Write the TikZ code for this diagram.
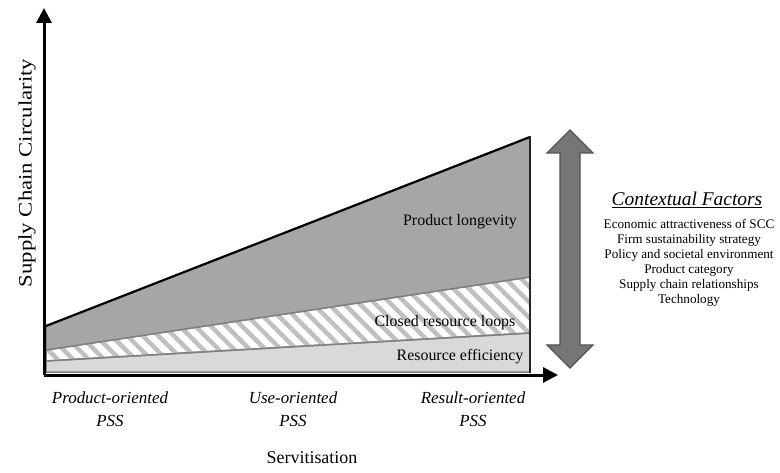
\documentclass[tikz,border=0pt]{standalone}
\usepackage{fontspec}
\setmainfont{Liberation Serif}
\usetikzlibrary{patterns.meta,arrows.meta}

\definecolor{longgray}{RGB}{166,166,166}
\definecolor{effgray}{RGB}{217,217,217}
\definecolor{stripegray}{RGB}{192,192,192}
\definecolor{edgegray}{RGB}{128,128,128}
\definecolor{factgray}{RGB}{118,118,118}

\begin{document}
\begin{tikzpicture}[x=1bp,y=-1bp]
		\tikzstyle{every node}+=[inner sep=0pt]
		\tikzstyle{band}=[draw=edgegray, line width=1.5bp, line join=round]
		\tikzstyle{bandlabel}=[font=\fontsize{16}{19}\selectfont]
		\tikzstyle{axis}=[black, line width=3bp, -{Triangle[length=15bp,width=15bp]}]
		\tikzstyle{pss}=[align=center, font=\fontsize{17}{23}\selectfont\itshape]
		\useasboundingbox (0,0) rectangle (780,473);
		% axes origin and tips
		\coordinate (o) at (44,375);
		\coordinate (ytip) at (44,8);
		\coordinate (xtip) at (558,375);
		% bands
		\draw [band, fill=effgray] (46,361) -- (530,333) -- (530,372) -- (46,372) -- cycle;
		\draw [band, pattern={Lines[angle=-45,distance=11bp,line width=4.5bp]}, pattern color=stripegray] (46,350) -- (530,277) -- (530,333) -- (46,361) -- cycle;
		\draw [band, fill=longgray] (46,326) -- (530,137) -- (530,277) -- (46,350) -- cycle;
		\draw [black, line width=2.2bp] (46,326) -- (530,137);
		\draw [black!85, line width=2bp] (530,136) -- (530,373);
		\draw (460,222) node [bandlabel] (longevity) {Product longevity};
		\draw (445,323) node [bandlabel] (loops) {Closed resource loops};
		\draw (460,357) node [bandlabel] (efficiency) {Resource efficiency};
		% axes
		\draw [axis] (o) -- (ytip);
		\draw [axis] (o) -- (xtip);
		\draw (27,173) node [rotate=90, xscale=1.2] (ylab) {\fontsize{19}{22}\selectfont Supply Chain Circularity};
		\draw (312,458) node (xlab) {\fontsize{18}{22}\selectfont Servitisation};
		\draw (110,409) node [pss] (product) {Product-oriented\\PSS};
		\draw (293,409) node [pss] (use) {Use-oriented\\PSS};
		\draw (473,409) node [pss] (result) {Result-oriented\\PSS};
		% contextual factors arrow
		\filldraw [fill=factgray, draw=factgray!70!black, line width=1.2bp, line join=miter]
			(570,130) -- (593,153) -- (580,153) -- (580,345) -- (593,345) -- (570,368)
			-- (547,345) -- (560,345) -- (560,153) -- (547,153) -- cycle;
		\draw (687,200) node (ctitle) {\fontsize{19.5}{22}\selectfont\itshape\underline{Contextual Factors}};
		\draw (689,263) node [align=center, font=\fontsize{13.2}{15}\selectfont] (factors)
			{Economic attractiveness of SCC\\Firm sustainability strategy\\Policy and societal environment\\Product category\\Supply chain relationships\\Technology};
	\end{tikzpicture}
\end{document}
